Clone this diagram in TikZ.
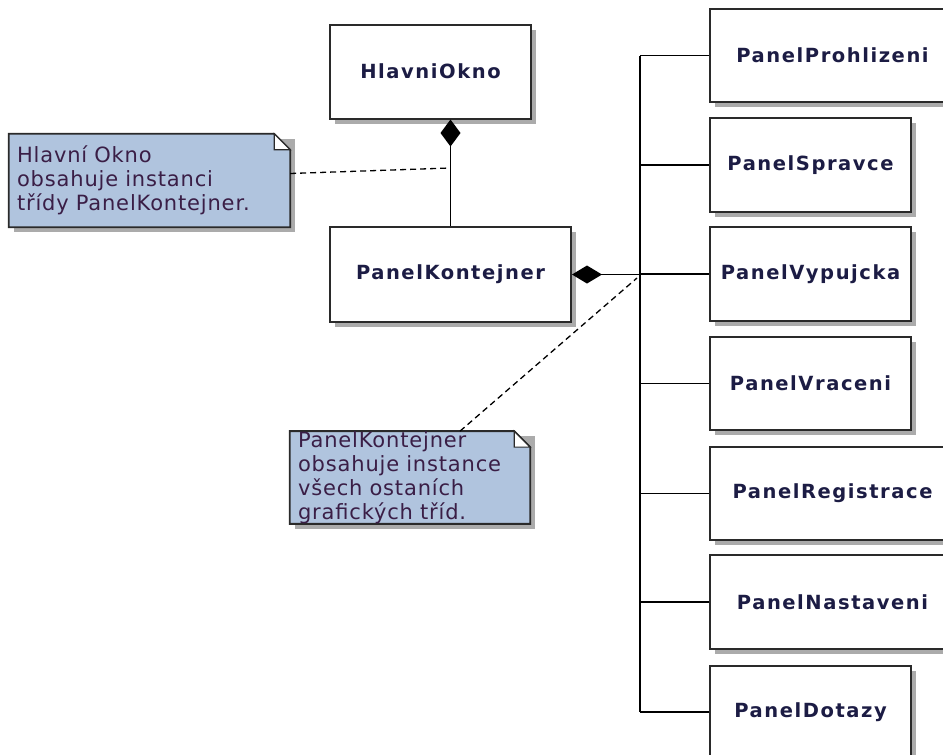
\documentclass[tikz,border=0pt]{standalone}
\usepackage{fontspec}
\usetikzlibrary{arrows.meta,shadows,backgrounds}
\newfontfamily\classfont[LetterSpace=8]{DejaVu Sans}
\newfontfamily\notefont[LetterSpace=4]{DejaVu Sans}
\definecolor{notefill}{HTML}{B0C4DE}
\definecolor{classtext}{HTML}{1C1C44}
\definecolor{notetext}{HTML}{3A1E46}
\definecolor{edge}{HTML}{2A2A2A}
\definecolor{stin}{HTML}{ABABAB}

\tikzset{
  trida/.style={draw=edge, line width=2pt, fill=white, text=classtext,
    font=\classfont\bfseries\fontsize{19.5}{23}\selectfont,
    drop shadow={shadow xshift=5pt, shadow yshift=-5pt, fill=stin, opacity=1},
    minimum width=201pt, minimum height=94pt, inner sep=0pt},
  sirsi/.style={minimum width=245pt},
  poznamka/.style={inner xsep=8pt, inner ysep=0pt, align=left, text=notetext,
    font=\notefont\fontsize{21}{24}\selectfont},
  spoj/.style={line width=1.6pt, draw=black},
  carkovane/.style={line width=1.3pt, dash pattern=on 6pt off 4pt},
  slozeni/.style={{Diamond[length=30pt,width=18pt]}-},
}

\begin{document}
\begin{tikzpicture}[x=1pt, y=-1pt]
  \useasboundingbox (0,0) rectangle (943,755);

  % tridy
  \node[trida] (okno) at (430.5,71.5) {HlavniOkno};
  \node[trida, minimum width=241pt, minimum height=95pt] (kontejner) at (450.5,274.5) {PanelKontejner};

  \node[trida, sirsi, minimum height=93pt] (prohlizeni) at (832.5,55.5) {PanelProhlizeni};
  \node[trida] (spravce) at (810.5,165) {PanelSpravce};
  \node[trida] (vypujcka) at (810.5,274) {PanelVypujcka};
  \node[trida, minimum height=93pt] (vraceni) at (810.5,383.5) {PanelVraceni};
  \node[trida, sirsi, minimum height=93pt] (registrace) at (832.5,493.5) {PanelRegistrace};
  \node[trida, sirsi] (nastaveni) at (832.5,602) {PanelNastaveni};
  \node[trida, minimum height=92pt] (dotazy) at (810.5,712) {PanelDotazy};

  % poznamky
  \node[poznamka, text width=265pt, minimum width=281pt, minimum height=93pt] (pozn1) at (149.5,180.5)
    {Hlavní Okno\\obsahuje instanci\\třídy PanelKontejner.};
  \node[poznamka, text width=224pt, minimum width=240pt, minimum height=91pt] (pozn2) at (410,477.5)
    {PanelKontejner\\obsahuje instance\\všech ostaních\\grafických tříd.};

  \begin{scope}[on background layer]
    \foreach \n in {pozn1,pozn2} {
      \fill[stin] ([shift={(5pt,-5pt)}]\n.north west) -- ([shift={(5pt,-5pt)}]\n.north east)
        -- ([shift={(5pt,-5pt)}]\n.south east) -- ([shift={(5pt,-5pt)}]\n.south west) -- cycle;
      \draw[edge, line width=1.8pt, fill=notefill] (\n.north west) -- ([xshift=-16pt]\n.north east)
        -- ([yshift=-16pt]\n.north east) -- (\n.south east) -- (\n.south west) -- cycle;
      \draw[edge, line width=1.2pt, fill=white] ([xshift=-16pt]\n.north east)
        -- ([xshift=-16pt,yshift=-16pt]\n.north east) -- ([yshift=-16pt]\n.north east) -- cycle;
    }
  \end{scope}

  % spoje
  \coordinate (sbernice) at (640,0);
  \coordinate (kotva1) at (450,168);
  \coordinate (kotva2) at (637,278);

  \draw[spoj] (prohlizeni.west -| sbernice) -- (dotazy.west -| sbernice);
  \foreach \p in {prohlizeni,spravce,vypujcka,vraceni,registrace,nastaveni,dotazy}
    \draw[spoj] (\p.west) -- (\p.west -| sbernice);
  \draw[spoj, slozeni] (kontejner.east) -- (kontejner.east -| sbernice);
  \draw[spoj, {Diamond[length=27pt,width=20pt]}-] (kontejner.north |- okno.south) -- (kontejner.north);

  \draw[carkovane] ([yshift=7pt]pozn1.east) -- (kotva1);
  \draw[carkovane] ([xshift=50pt]pozn2.north) -- (kotva2);
\end{tikzpicture}
\end{document}
